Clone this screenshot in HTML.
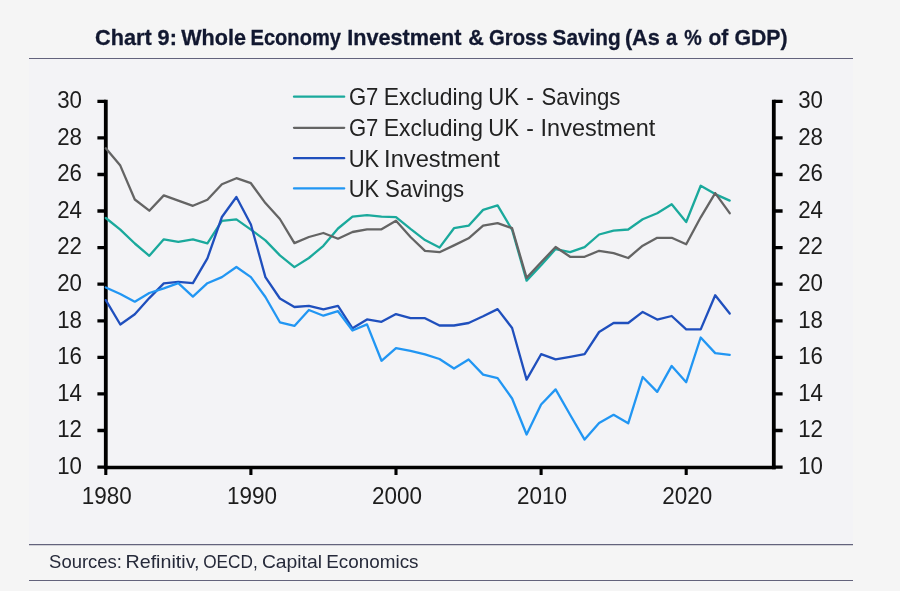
<!DOCTYPE html>
<html lang="en"><head><meta charset="utf-8"><title>Chart 9: Whole Economy Investment &amp; Gross Saving</title>
<style>
html,body{margin:0;padding:0;background:#f5f5f5;}
body{width:900px;height:591px;overflow:hidden;}
svg{display:block;}
text{font-family:"Liberation Sans",sans-serif;}
.t{font-weight:bold;font-size:21.6px;fill:#121830;stroke:#121830;stroke-width:0.3px;}
.n{font-size:24px;fill:#1c1c1c;}
.l{font-size:23.4px;fill:#222;}
.s{font-size:19px;fill:#262a3a;}
</style></head><body>
<svg width="900" height="591" viewBox="0 0 900 591">
<rect x="0" y="0" width="900" height="591" fill="#f5f5f5"/>
<rect x="29" y="58" width="824" height="486.5" fill="#f3f3f6"/>
<g stroke="#63637c" stroke-width="1.1">
<line x1="29" y1="58.5" x2="853" y2="58.5"/>
<line x1="29" y1="544.6" x2="853" y2="544.6"/>
<line x1="29" y1="580.5" x2="853" y2="580.5"/>
</g>

<text class="t" y="44.8"><tspan x="95.0" textLength="81.9" lengthAdjust="spacingAndGlyphs">Chart 9:</tspan> <tspan x="181.2" textLength="64.8" lengthAdjust="spacingAndGlyphs">Whole</tspan> <tspan x="250.5" textLength="90.5" lengthAdjust="spacingAndGlyphs">Economy</tspan> <tspan x="347.3" textLength="114.2" lengthAdjust="spacingAndGlyphs">Investment</tspan> <tspan x="468.3" textLength="15.6" lengthAdjust="spacingAndGlyphs">&amp;</tspan> <tspan x="489.1" textLength="58.5" lengthAdjust="spacingAndGlyphs">Gross</tspan> <tspan x="552.6" textLength="68.1" lengthAdjust="spacingAndGlyphs">Saving</tspan> <tspan x="624.9" textLength="34.9" lengthAdjust="spacingAndGlyphs">(As</tspan> <tspan x="665.9" textLength="11.2" lengthAdjust="spacingAndGlyphs">a</tspan> <tspan x="684.2" textLength="17.5" lengthAdjust="spacingAndGlyphs">%</tspan> <tspan x="708.4" textLength="19.8" lengthAdjust="spacingAndGlyphs">of</tspan> <tspan x="734.4" textLength="53.1" lengthAdjust="spacingAndGlyphs">GDP)</tspan></text>
<g stroke="#000" fill="none">
<path d="M105.8,99.7 V469.3 M773.8,99.7 V469.3" stroke-width="3.8"/>
<path d="M103.89999999999999,467.5 H775.6999999999999" stroke-width="3.7"/>
<path d="M97.4,101.3 H105.8 M773.8,101.3 H782.6 M97.4,137.9 H105.8 M773.8,137.9 H782.6 M97.4,174.5 H105.8 M773.8,174.5 H782.6 M97.4,211.0 H105.8 M773.8,211.0 H782.6 M97.4,247.6 H105.8 M773.8,247.6 H782.6 M97.4,284.2 H105.8 M773.8,284.2 H782.6 M97.4,320.8 H105.8 M773.8,320.8 H782.6 M97.4,357.4 H105.8 M773.8,357.4 H782.6 M97.4,393.9 H105.8 M773.8,393.9 H782.6 M97.4,430.5 H105.8 M773.8,430.5 H782.6 M97.4,467.1 H105.8 M773.8,467.1 H782.6 " stroke-width="3.3"/>
<path d="M105.8,467.1 V474.9 M250.9,467.1 V474.9 M396.0,467.1 V474.9 M541.1,467.1 V474.9 M686.2,467.1 V474.9 " stroke-width="3.1"/>
</g>
<text class="n" x="57.2" y="108.1" textLength="24.8" lengthAdjust="spacingAndGlyphs">30</text>
<text class="n" x="798.2" y="108.1" textLength="24.8" lengthAdjust="spacingAndGlyphs">30</text>
<text class="n" x="57.2" y="144.7" textLength="24.8" lengthAdjust="spacingAndGlyphs">28</text>
<text class="n" x="798.2" y="144.7" textLength="24.8" lengthAdjust="spacingAndGlyphs">28</text>
<text class="n" x="57.2" y="181.3" textLength="24.8" lengthAdjust="spacingAndGlyphs">26</text>
<text class="n" x="798.2" y="181.3" textLength="24.8" lengthAdjust="spacingAndGlyphs">26</text>
<text class="n" x="57.2" y="217.8" textLength="24.8" lengthAdjust="spacingAndGlyphs">24</text>
<text class="n" x="798.2" y="217.8" textLength="24.8" lengthAdjust="spacingAndGlyphs">24</text>
<text class="n" x="57.2" y="254.4" textLength="24.8" lengthAdjust="spacingAndGlyphs">22</text>
<text class="n" x="798.2" y="254.4" textLength="24.8" lengthAdjust="spacingAndGlyphs">22</text>
<text class="n" x="57.2" y="291.0" textLength="24.8" lengthAdjust="spacingAndGlyphs">20</text>
<text class="n" x="798.2" y="291.0" textLength="24.8" lengthAdjust="spacingAndGlyphs">20</text>
<text class="n" x="57.2" y="327.6" textLength="24.8" lengthAdjust="spacingAndGlyphs">18</text>
<text class="n" x="798.2" y="327.6" textLength="24.8" lengthAdjust="spacingAndGlyphs">18</text>
<text class="n" x="57.2" y="364.2" textLength="24.8" lengthAdjust="spacingAndGlyphs">16</text>
<text class="n" x="798.2" y="364.2" textLength="24.8" lengthAdjust="spacingAndGlyphs">16</text>
<text class="n" x="57.2" y="400.7" textLength="24.8" lengthAdjust="spacingAndGlyphs">14</text>
<text class="n" x="798.2" y="400.7" textLength="24.8" lengthAdjust="spacingAndGlyphs">14</text>
<text class="n" x="57.2" y="437.3" textLength="24.8" lengthAdjust="spacingAndGlyphs">12</text>
<text class="n" x="798.2" y="437.3" textLength="24.8" lengthAdjust="spacingAndGlyphs">12</text>
<text class="n" x="57.2" y="473.9" textLength="24.8" lengthAdjust="spacingAndGlyphs">10</text>
<text class="n" x="798.2" y="473.9" textLength="24.8" lengthAdjust="spacingAndGlyphs">10</text>
<text class="n" x="81.8" y="504.3" textLength="50" lengthAdjust="spacingAndGlyphs">1980</text>
<text class="n" x="226.9" y="504.3" textLength="50" lengthAdjust="spacingAndGlyphs">1990</text>
<text class="n" x="372.0" y="504.3" textLength="50" lengthAdjust="spacingAndGlyphs">2000</text>
<text class="n" x="517.1" y="504.3" textLength="50" lengthAdjust="spacingAndGlyphs">2010</text>
<text class="n" x="662.2" y="504.3" textLength="50" lengthAdjust="spacingAndGlyphs">2020</text>
<g fill="none" stroke-width="2.3" stroke-linejoin="round" stroke-linecap="round">
<polyline stroke="#1aa99c" points="105.8,218.0 120.3,229.6 134.8,243.5 149.3,255.8 163.8,239.3 178.3,241.8 192.9,239.3 207.4,243.4 221.9,220.8 236.4,219.4 250.9,229.6 265.4,240.4 279.9,255.4 294.4,267.1 308.9,258.0 323.4,245.8 338.0,228.5 352.5,216.7 367.0,215.1 381.5,216.7 396.0,217.1 410.5,228.9 425.0,240.1 439.5,247.6 454.0,228.2 468.6,225.7 483.1,209.9 497.6,205.4 512.1,229.8 526.6,280.6 541.1,265.3 555.6,249.1 570.1,252.1 584.6,247.2 599.1,234.5 613.6,230.7 628.2,229.5 642.7,219.3 657.2,213.2 671.7,204.3 686.2,222.0 700.7,185.8 715.2,194.1 729.7,200.6"/>
<polyline stroke="#646464" points="105.8,148.3 120.3,165.6 134.8,199.5 149.3,210.7 163.8,195.4 178.3,200.7 192.9,205.8 207.4,199.7 221.9,184.2 236.4,178.2 250.9,183.2 265.4,203.1 279.9,219.0 294.4,243.1 308.9,237.0 323.4,233.0 338.0,238.7 352.5,232.0 367.0,229.3 381.5,229.3 396.0,220.8 410.5,237.0 425.0,250.9 439.5,252.2 454.0,245.4 468.6,238.3 483.1,225.7 497.6,223.1 512.1,228.2 526.6,277.9 541.1,262.3 555.6,247.0 570.1,256.8 584.6,256.8 599.1,250.8 613.6,253.1 628.2,258.0 642.7,245.7 657.2,237.8 671.7,237.8 686.2,244.3 700.7,217.3 715.2,193.1 729.7,213.2"/>
<polyline stroke="#1f4fbd" points="105.8,300.1 120.3,324.5 134.8,314.3 149.3,298.1 163.8,283.4 178.3,281.8 192.9,283.2 207.4,258.4 221.9,217.0 236.4,197.0 250.9,224.5 265.4,277.1 279.9,298.5 294.4,307.0 308.9,305.8 323.4,309.4 338.0,305.8 352.5,328.3 367.0,319.4 381.5,321.8 396.0,314.1 410.5,318.2 425.0,318.2 439.5,325.5 454.0,325.5 468.6,323.0 483.1,316.3 497.6,309.1 512.1,328.0 526.6,379.6 541.1,354.2 555.6,359.4 570.1,356.9 584.6,354.2 599.1,332.0 613.6,323.0 628.2,323.0 642.7,311.9 657.2,319.6 671.7,316.0 686.2,329.4 700.7,329.4 715.2,295.2 729.7,313.5"/>
<polyline stroke="#2196f3" points="105.8,287.5 120.3,294.0 134.8,301.7 149.3,293.0 163.8,288.3 178.3,283.2 192.9,296.6 207.4,283.2 221.9,277.1 236.4,267.0 250.9,277.1 265.4,297.0 279.9,322.3 294.4,325.9 308.9,310.0 323.4,315.7 338.0,311.2 352.5,330.5 367.0,324.4 381.5,360.8 396.0,348.2 410.5,350.9 425.0,354.3 439.5,359.0 454.0,368.5 468.6,359.5 483.1,374.6 497.6,378.1 512.1,398.5 526.6,434.5 541.1,404.5 555.6,389.4 570.1,414.8 584.6,439.6 599.1,422.9 613.6,414.8 628.2,423.3 642.7,377.0 657.2,391.9 671.7,365.9 686.2,382.2 700.7,337.5 715.2,353.1 729.7,354.8"/>
</g>
<line x1="294" y1="96.7" x2="344.2" y2="96.7" stroke="#1aa99c" stroke-width="2.3" stroke-linecap="round"/>
<text class="l" y="104.9"><tspan x="348.9" textLength="29.5" lengthAdjust="spacingAndGlyphs">G7</tspan> <tspan x="383.8" textLength="99.3" lengthAdjust="spacingAndGlyphs">Excluding</tspan> <tspan x="488.3" textLength="30.8" lengthAdjust="spacingAndGlyphs">UK</tspan> <tspan x="526.3" textLength="7.6" lengthAdjust="spacingAndGlyphs">-</tspan> <tspan x="541.6" textLength="78.8" lengthAdjust="spacingAndGlyphs">Savings</tspan></text>
<line x1="294" y1="127.8" x2="344.2" y2="127.8" stroke="#646464" stroke-width="2.3" stroke-linecap="round"/>
<text class="l" y="135.8"><tspan x="348.9" textLength="29.5" lengthAdjust="spacingAndGlyphs">G7</tspan> <tspan x="383.8" textLength="99.3" lengthAdjust="spacingAndGlyphs">Excluding</tspan> <tspan x="488.3" textLength="30.8" lengthAdjust="spacingAndGlyphs">UK</tspan> <tspan x="526.3" textLength="7.6" lengthAdjust="spacingAndGlyphs">-</tspan> <tspan x="540.6" textLength="114.7" lengthAdjust="spacingAndGlyphs">Investment</tspan></text>
<line x1="294" y1="158.2" x2="344.2" y2="158.2" stroke="#1f4fbd" stroke-width="2.3" stroke-linecap="round"/>
<text class="l" y="166.7"><tspan x="348.7" textLength="30.5" lengthAdjust="spacingAndGlyphs">UK</tspan> <tspan x="384.1" textLength="115.7" lengthAdjust="spacingAndGlyphs">Investment</tspan></text>
<line x1="294" y1="188.4" x2="344.2" y2="188.4" stroke="#2196f3" stroke-width="2.3" stroke-linecap="round"/>
<text class="l" y="197.3"><tspan x="348.7" textLength="30.5" lengthAdjust="spacingAndGlyphs">UK</tspan> <tspan x="385.1" textLength="79.0" lengthAdjust="spacingAndGlyphs">Savings</tspan></text>
<text class="s" y="567.8"><tspan x="49.1" textLength="72.9" lengthAdjust="spacingAndGlyphs">Sources:</tspan> <tspan x="125.5" textLength="74.0" lengthAdjust="spacingAndGlyphs">Refinitiv,</tspan> <tspan x="203.2" textLength="54.5" lengthAdjust="spacingAndGlyphs">OECD,</tspan> <tspan x="261.9" textLength="60.1" lengthAdjust="spacingAndGlyphs">Capital</tspan> <tspan x="326.3" textLength="92.2" lengthAdjust="spacingAndGlyphs">Economics</tspan></text>
</svg></body></html>
